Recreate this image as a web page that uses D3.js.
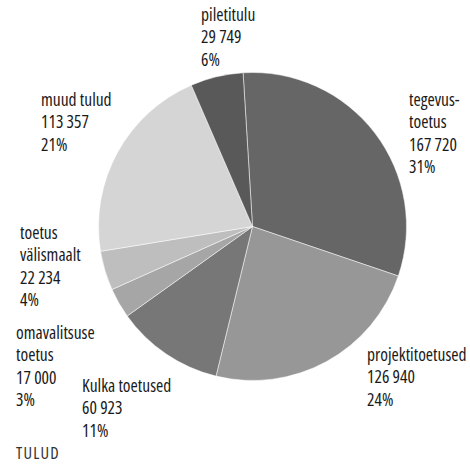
<!DOCTYPE html>
<html>
<head>
<meta charset="utf-8">
<script src="https://cdn.jsdelivr.net/npm/d3@7"></script>
<style>
  body { margin: 0; background: #fff; }
  svg text { font-family: "Open Sans", sans-serif; font-stretch: condensed; fill: #1a1a1a; }
</style>
</head>
<body>
<div id="chart"></div>
<script>
// data
var categories = ["tegevustoetus", "projektitoetused", "Kulka toetused", "omavalitsuse toetus", "toetus välismaalt", "muud tulud", "piletitulu"];
var values = [167720, 126940, 60923, 17000, 22234, 113357, 29749];
var labelLines = [
  ["tegevus-", "toetus"],
  ["projektitoetused"],
  ["Kulka toetused"],
  ["omavalitsuse", "toetus"],
  ["toetus", "välismaalt"],
  ["muud tulud"],
  ["piletitulu"]
];
var colors = ["#666666", "#979797", "#777777", "#a6a6a6", "#bebebe", "#d5d5d5", "#595959"];
var title = "TULUD";

// layout
var width = 470, height = 465;
var cx = 252.5, cy = 226.5, radius = 154;
var startAngle = -3.5 * Math.PI / 180;
// label anchors (first line baseline)
var labelPos = [
  [409, 106], [367, 361], [82, 392], [16, 339], [20, 239], [41, 106], [201, 21]
];
var lineHeight = 22.3;

var svg = d3.select("#chart").append("svg")
  .attr("width", width)
  .attr("height", height);

var total = d3.sum(values);
var fmt = function (v) { return d3.format(",")(v).replace(/,/g, " "); };

var pie = d3.pie()
  .sort(null)
  .startAngle(startAngle)
  .endAngle(startAngle + 2 * Math.PI);
var arc = d3.arc().innerRadius(0).outerRadius(radius);

var g = svg.append("g").attr("transform", "translate(" + cx + "," + cy + ")");
g.selectAll("path")
  .data(pie(values))
  .enter().append("path")
  .attr("d", arc)
  .attr("fill", function (d, i) { return colors[i]; })
  .attr("stroke", "#ffffff")
  .attr("stroke-width", 0.5);

// labels
var labels = svg.selectAll("text.lbl")
  .data(categories)
  .enter().append("text")
  .attr("class", "lbl")
  .attr("x", function (d, i) { return labelPos[i][0]; })
  .attr("y", function (d, i) { return labelPos[i][1]; })
  .style("font-size", "17.5px");

labels.each(function (d, i) {
  var t = d3.select(this);
  var lines = labelLines[i].concat([fmt(values[i]), Math.round(values[i] / total * 100) + "%"]);
  lines.forEach(function (s, k) {
    t.append("tspan")
      .attr("x", labelPos[i][0])
      .attr("dy", k === 0 ? 0 : lineHeight)
      .text(s);
  });
});

// title
svg.append("text")
  .attr("x", 16)
  .attr("y", 459)
  .style("font-size", "16.5px")
  .style("letter-spacing", "1.2px")
  .style("fill", "#333333")
  .text(title);
</script>
</body>
</html>
